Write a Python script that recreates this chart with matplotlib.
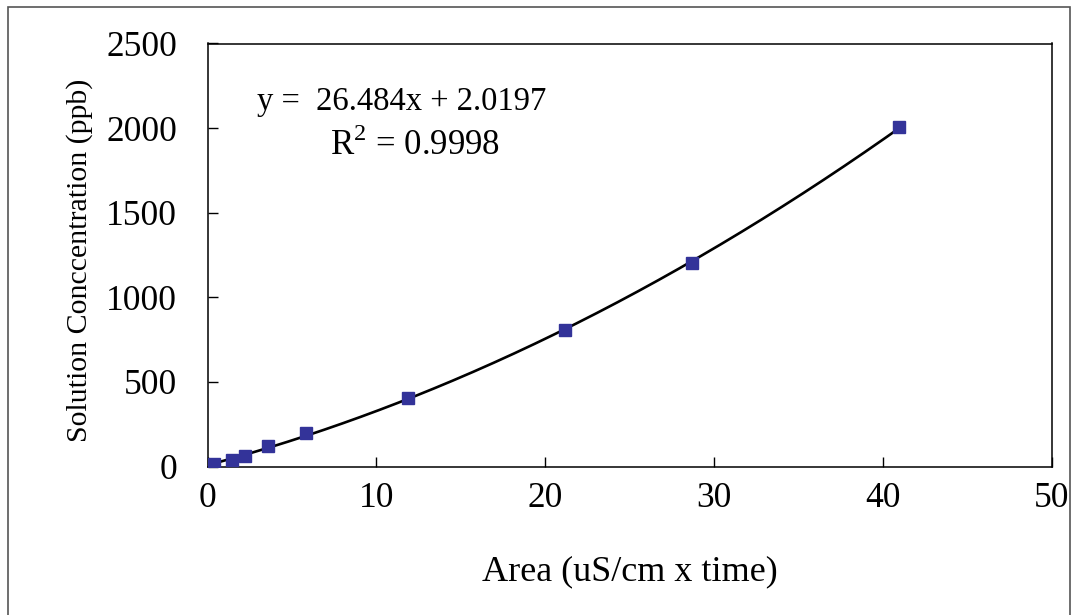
import numpy as np
import matplotlib
matplotlib.use("Agg")
import matplotlib.pyplot as plt
from matplotlib.patches import Rectangle

# Data
area = [0.4, 1.45, 2.2, 3.6, 5.85, 11.85, 21.15, 28.7, 40.95]
conc = [12, 38, 60, 122, 200, 405, 805, 1205, 2005]

x_ticks = [0, 10, 20, 30, 40, 50]
y_ticks = [0, 500, 1000, 1500, 2000, 2500]
eq_text = "y =  26.484x + 2.0197"
r2_text = "R$^2$ = 0.9998"
x_label = "Area (uS/cm x time)"
y_label = "Solution Conccentration (ppb)"

plt.rcParams['font.family'] = ['Liberation Serif', 'DejaVu Serif']
plt.rcParams['mathtext.fontset'] = 'custom'
plt.rcParams['mathtext.rm'] = 'Liberation Serif'

fig = plt.figure(figsize=(10.74, 6.15), dpi=100)
# outer frame
fig.patches.append(Rectangle((8/1074, -0.05), (1070-8)/1074, 1.05 - 7/615,
                             transform=fig.transFigure, fill=False,
                             edgecolor='#555555', linewidth=1.2))

ax = fig.add_axes([207.5/1074, (615-466.5)/615, (1052-207.5)/1074, (466.5-43.5)/615])

# polynomial trendline from the data
coef = np.polyfit(area, conc, 2)
xs = np.linspace(area[0], area[-1], 300)
ax.plot(xs, np.polyval(coef, xs), color='black', linewidth=1.9, zorder=2)
ax.plot(area, conc, linestyle='none', marker='s', markersize=8,
        color='#333399', markeredgecolor='#333399', zorder=3)

ax.set_xlim(0, 50)
ax.set_ylim(0, 2500)
ax.set_xticks(x_ticks)
ax.set_yticks(y_ticks)
ax.tick_params(direction='in', length=7, width=1.0, labelsize=25.5, pad=11)
ax.tick_params(axis='y', pad=22)
for s in ax.spines.values():
    s.set_linewidth(1.1)
    s.set_color('black')

ax.set_xlabel(x_label, fontsize=26, labelpad=29)
ax.set_ylabel(y_label, fontsize=21.5)
ax.yaxis.set_label_coords((93 - 207.5) / 844.5, (466.5 - 260) / 423)

fig.text(257/1074, 1 - 110/615, eq_text, fontsize=23.5, va='baseline', ha='left')
fig.text(330/1074, 1 - 155/615, r2_text, fontsize=25, va='baseline', ha='left')

fig.savefig("out.png", dpi=100)
